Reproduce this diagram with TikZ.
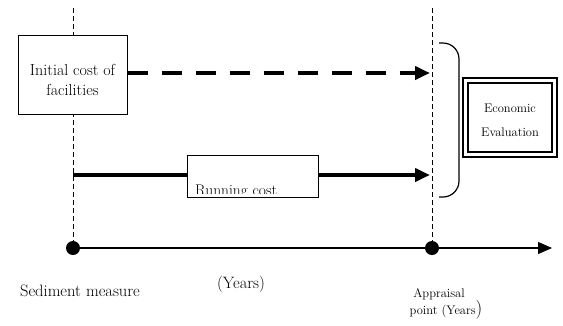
\documentclass[tikz,border=0pt]{standalone}
\usetikzlibrary{arrows.meta}
\begin{document}
\begin{tikzpicture}[x=1pt,y=-1pt,
  guide/.style={dash pattern=on 5pt off 3pt, line width=0.9pt},
  costbox/.style={draw, line width=1pt, fill=white, inner sep=0pt},
  flow/.style={line width=4pt, -{Triangle[length=15pt,width=13pt]}},
  lbl/.style={inner sep=0pt, font=\fontsize{16.5}{18}\selectfont},
  small/.style={inner sep=0pt, font=\fontsize{12.5}{14}\selectfont}]
\useasboundingbox (0,0) rectangle (563,325);

% time points and their guide lines
\coordinate (tt) at (73,8);
\coordinate (at) at (432,8);
\node[circle, fill=black, minimum size=14pt, inner sep=0pt] (t0) at (73,248) {};
\node[circle, fill=black, minimum size=14pt, inner sep=0pt] (ta) at (432,248) {};
\coordinate (tend) at (552,248);
\draw[guide] (tt) -- (t0);
\draw[guide] (at) -- (ta);

% time axis
\draw[line width=1.2pt, -{Triangle[length=14pt,width=12pt]}] (t0) -- (tend);

% initial cost
\node[costbox, minimum width=109pt, minimum height=79pt] (init) at (72.5,74.5) {};
\node[inner sep=0pt, align=center, font=\fontsize{16}{20}\selectfont]
  (initt) at ([yshift=-5pt]init.center) {Initial cost of\\facilities};
\coordinate (ia) at (430,73);
\draw[flow, dash pattern=on 20pt off 14pt] (init.east |- ia) -- (ia);

% running cost
\coordinate (rs) at (73,175);
\coordinate (ra) at (430,175);
\draw[flow] (rs) -- (ra);
\node[costbox, minimum width=131pt, minimum height=42pt] (run) at (252.5,176) {};
\begin{scope}
  \clip (run.north west) rectangle ([yshift=4pt]run.south east);
  \node[inner sep=0pt, font=\fontsize{15.5}{17}\selectfont, anchor=base west] (runt) at (195,195) {Running cost};
\end{scope}

% brace gathering both costs
\coordinate (b1) at (439,43);
\coordinate (b2) at (439,197);
\draw[line width=1.2pt, rounded corners=16pt] (b1) -- (459,43) -- (459,197) -- (b2);

% economic evaluation
\node[draw, line width=2.5pt, minimum width=94pt, minimum height=79pt] (evo) at (510,117.5) {};
\node[draw, line width=1.8pt, minimum width=84pt, minimum height=69pt] (evi) at (510,117.5) {};
\node[inner sep=0pt, align=center, font=\fontsize{12.5}{24}\selectfont]
  (evt) at ([yshift=-3pt]evi.center) {Economic\\Evaluation};

% axis labels
\node[lbl, anchor=base] (sed) at (80,296) {Sediment measure};
\node[lbl, anchor=base] (yrs) at (241,288) {(Years)};
\node[small, anchor=base] (app) at (439,297) {Appraisal};
\node[small, anchor=base] (pt) at (446,314) {point (Years\fontsize{19}{20}\selectfont)};
\end{tikzpicture}
\end{document}
